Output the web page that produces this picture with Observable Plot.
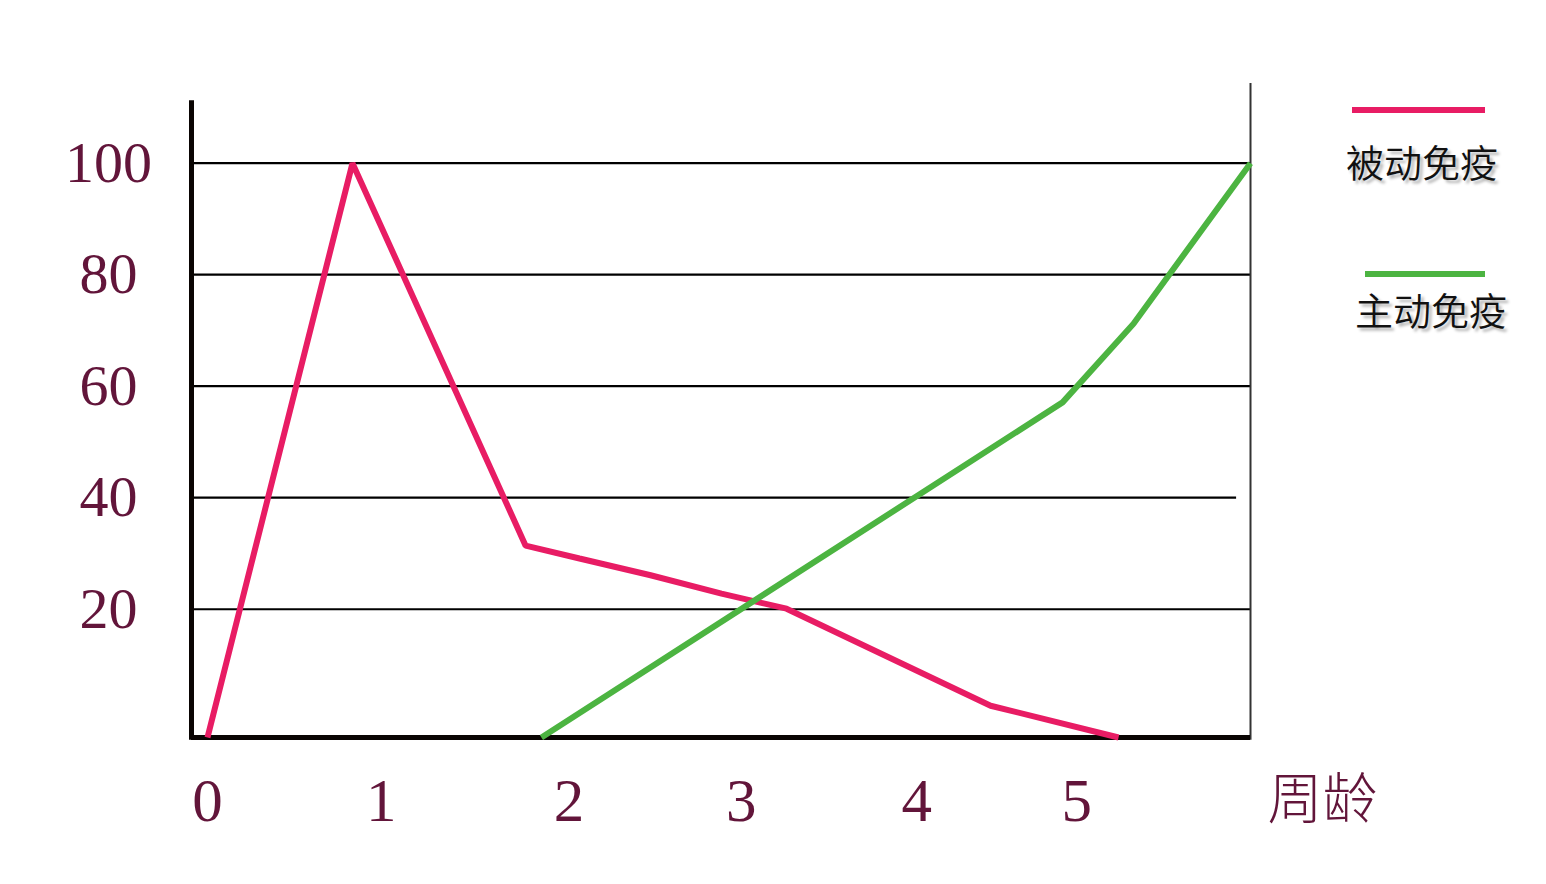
<!DOCTYPE html>
<html><head><meta charset="utf-8">
<script src="https://cdn.jsdelivr.net/npm/d3@7"></script>
<script src="https://cdn.jsdelivr.net/npm/@observablehq/plot@0.6"></script>
<style>
body{margin:0;overflow:hidden;background:#fff}
#wrap{position:relative;width:1546px;height:884px}
.legline{position:absolute;height:6px}
.legtext{position:absolute;width:200px;text-align:center;font-family:"Noto Sans CJK SC",sans-serif;font-weight:350;font-size:38px;line-height:38px;color:#111;text-shadow:3px 3px 3px rgba(0,0,0,0.3)}
</style></head><body><div id="wrap"></div>
<script>
// Data
const passiveWeeks  = [0, 0.834, 1.830, 2.140, 2.549, 2.957, 3.331, 4.505, 5.241];
const passiveValues = [-3, 100, 31.4, 29.1, 26.1, 22.8, 20.1, 2.7, -3];
const activeWeeks   = [1.921, 4.919, 5.327, 6.0];
const activeValues  = [-3, 57.1, 71.2, 100];
const yTicks = [20, 40, 60, 80, 100];
const gridEnds = [6, 5.92, 6, 6, 6];
const xTickWeeks = [0, 1, 2.08, 3.07, 4.08, 5];
const xTickLabels = ["0", "1", "2", "3", "4", "5"];
const xTitle = "周龄";
const seriesNames = ["被动免疫", "主动免疫"];
const seriesColors = ["#e81c64", "#4cb441"];

const maroon = "#62153a";
const xMin = -0.092, xMax = 6, yMin = -3, yMax = 115;

const passive = passiveWeeks.map((w, i) => ({w, v: passiveValues[i]}));
const active = activeWeeks.map((w, i) => ({w, v: activeValues[i]}));

const chart = Plot.plot({
  width: 1546, height: 884,
  marginLeft: 191, marginRight: 296, marginTop: 79, marginBottom: 147,
  x: {domain: [xMin, xMax], axis: null},
  y: {domain: [yMin, yMax], axis: null},
  style: {background: "#fff", overflow: "visible"},
  marks: [
    Plot.ruleY(yTicks, {y: d => d, x1: xMin, x2: (d, i) => gridEnds[i], stroke: "#000", strokeWidth: 2.2}),
    Plot.ruleX([xMax], {y1: -3.5, y2: 114.3, stroke: "#333", strokeWidth: 2}),
    Plot.ruleX([xMin], {y1: -3.5, y2: 111.2, stroke: "#0a0503", strokeWidth: 5}),
    Plot.ruleY([yMin], {x1: xMin, x2: xMax, stroke: "#0a0503", strokeWidth: 5}),
    Plot.line(passive, {x: "w", y: "v", stroke: seriesColors[0], strokeWidth: 6, strokeLinejoin: "miter", strokeLinecap: "butt"}),
    Plot.line(active, {x: "w", y: "v", stroke: seriesColors[1], strokeWidth: 6, strokeLinejoin: "miter", strokeLinecap: "butt"}),
    Plot.text(yTicks, {x: xMin, y: d => d, text: d => String(d), dx: -83, textAnchor: "middle", lineAnchor: "middle",
      fontSize: 58, fontFamily: "Liberation Serif", fill: maroon}),
    Plot.text(xTickWeeks, {x: d => d, y: yMin, text: (d, i) => xTickLabels[i], dy: 64, textAnchor: "middle", lineAnchor: "middle",
      fontSize: 61, fontFamily: "Liberation Serif", fill: maroon}),
    Plot.text([xTitle], {x: xMax, y: yMin, text: d => d, dx: 72, dy: 63, textAnchor: "middle", lineAnchor: "middle",
      fontSize: 55, fontWeight: 300, fontFamily: "Noto Sans CJK SC", fill: maroon})
  ]
});
const wrap = document.getElementById("wrap");
wrap.appendChild(chart);

// Legend (right side)
const legPos = [
  {lineLeft: 1352, lineTop: 107, lineW: 133, textCx: 1422, textTop: 142},
  {lineLeft: 1365, lineTop: 271, lineW: 120, textCx: 1431, textTop: 290}
];
seriesNames.forEach((name, i) => {
  const p = legPos[i];
  const ln = document.createElement("div");
  ln.className = "legline";
  ln.style.left = p.lineLeft + "px"; ln.style.top = p.lineTop + "px";
  ln.style.width = p.lineW + "px"; ln.style.background = seriesColors[i];
  wrap.appendChild(ln);
  const tx = document.createElement("div");
  tx.className = "legtext";
  tx.style.left = (p.textCx - 100) + "px"; tx.style.top = p.textTop + "px";
  tx.textContent = name;
  wrap.appendChild(tx);
});
</script></body></html>
